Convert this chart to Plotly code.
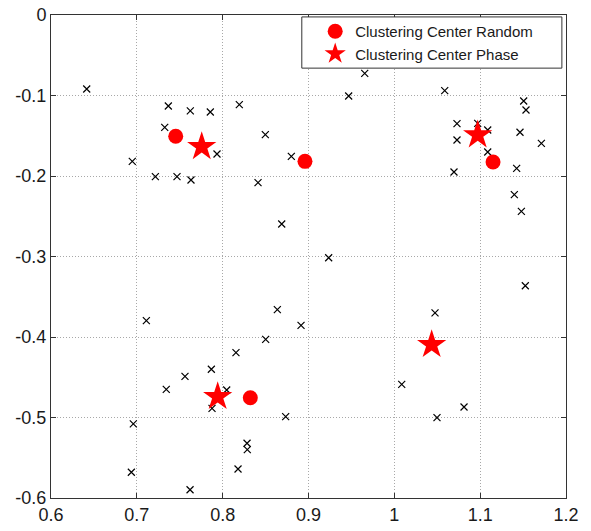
import plotly.graph_objects as go

# sample points (x markers)
pts_x = [0.6416, 0.7367, 0.7623, 0.7856, 0.8194, 0.7325, 0.7934, 0.8497, 0.8800, 0.6947,
         0.7216, 0.7468, 0.7631, 0.8412, 0.8688,
         0.9655, 0.9468, 1.0587, 1.1507, 1.1534, 1.0730, 1.0971, 1.1088, 1.1464, 1.1713,
         1.0730, 1.1088, 1.1425, 1.0695, 1.1398, 1.1480, 0.9235,
         1.1526, 1.0474, 0.8913, 1.0086, 1.0812, 1.0497,
         0.7111, 0.8637, 0.8501, 0.8155, 0.7868, 0.7561, 0.7343, 0.8047, 0.7876, 0.8734,
         0.6959, 0.8284, 0.8287, 0.8179, 0.6936, 0.7620]
pts_y = [-0.0919, -0.1130, -0.1190, -0.1205, -0.1114, -0.1395, -0.1727, -0.1487, -0.1756, -0.1818,
         -0.2008, -0.2008, -0.2050, -0.2083, -0.2596,
         -0.0725, -0.1006, -0.0940, -0.1068, -0.1180, -0.1350, -0.1346, -0.1429, -0.1457, -0.1594,
         -0.1553, -0.1702, -0.1905, -0.1950, -0.2232, -0.2439, -0.3015,
         -0.3363, -0.3700, -0.3855, -0.4588, -0.4870, -0.5002,
         -0.3797, -0.3660, -0.4029, -0.4195, -0.4401, -0.4489, -0.4650, -0.4658, -0.4886, -0.4990,
         -0.5080, -0.5320, -0.5400, -0.5640, -0.5680, -0.5897]

# clustering centers
random_x = [0.7453, 0.8959, 1.1150, 0.8322]
random_y = [-0.1507, -0.1818, -0.1826, -0.4754]
phase_x = [0.7756, 1.0971, 1.0435, 0.7942]
phase_y = [-0.1636, -0.1490, -0.4095, -0.4741]

x_ticks = [0.6, 0.7, 0.8, 0.9, 1.0, 1.1, 1.2]
x_labels = ["0.6", "0.7", "0.8", "0.9", "1", "1.1", "1.2"]
y_ticks = [0, -0.1, -0.2, -0.3, -0.4, -0.5, -0.6]
y_labels = ["0", "-0.1", "-0.2", "-0.3", "-0.4", "-0.5", "-0.6"]

fig = go.Figure()
fig.add_trace(go.Scatter(x=pts_x, y=pts_y, mode="markers", showlegend=False,
                         marker=dict(symbol="x-thin", size=7, color="black",
                                     line=dict(color="black", width=1.2))))
fig.add_trace(go.Scatter(x=random_x, y=random_y, mode="markers", name="Clustering Center Random",
                         marker=dict(symbol="circle", size=15, color="#ff0000")))
fig.add_trace(go.Scatter(x=phase_x, y=phase_y, mode="markers", name="Clustering Center Phase",
                         marker=dict(symbol="star", size=22, color="#ff0000")))

axis_common = dict(showline=True, linecolor="#333333", linewidth=1, mirror="allticks",
                   ticks="inside", ticklen=5, tickcolor="#333333", automargin=False,
                   showgrid=True, gridcolor="#a8a8a8", griddash="1px,2px", gridwidth=1,
                   zeroline=False, tickfont=dict(family="Liberation Sans, Arial", size=18, color="#1a1a1a"))

fig.update_xaxes(range=[0.6, 1.2], tickvals=x_ticks, ticktext=x_labels, **axis_common)
fig.update_yaxes(range=[-0.6, 0], tickvals=y_ticks, ticktext=y_labels, **axis_common)

# legend frame (paper coordinates of the box in the reference)
fig.add_shape(type="rect", xref="paper", yref="paper", x0=0.487, x1=0.992, y0=0.890, y1=0.996,
              line=dict(color="#333333", width=1), fillcolor="white", layer="above")

fig.update_layout(
    width=591, height=531,
    margin=dict(l=51, r=25, t=15, b=33, autoexpand=False),
    paper_bgcolor="white", plot_bgcolor="white",
    font=dict(family="Liberation Sans, Arial", color="#1a1a1a"),
    legend=dict(x=0.513, y=1.0, xanchor="left", yanchor="top",
                bgcolor="rgba(0,0,0,0)", borderwidth=0,
                font=dict(size=15), tracegroupgap=0),
)

fig.write_html("out.html")
